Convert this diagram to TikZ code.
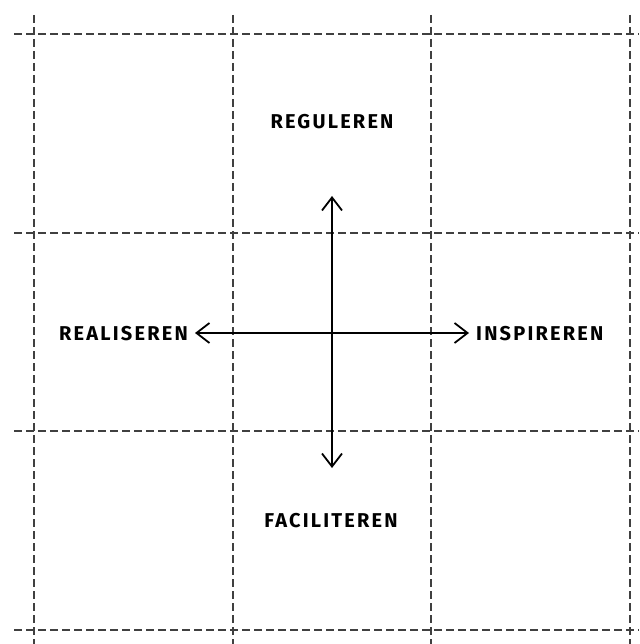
\documentclass[tikz,border=0pt]{standalone}
\usepackage{fontspec}
\setmainfont{Fira Sans}
\newfontfamily\lblfont[LetterSpace=11]{Fira Sans}
\usetikzlibrary{arrows.meta}
\begin{document}
\begin{tikzpicture}[x=1pt,y=-1pt,
  gridline/.style={draw=black!75,line width=1.2pt,dash pattern=on 8pt off 4pt},
  axis/.style={draw=black,line width=1.8pt,{Straight Barb[length=13pt,width=20pt,line width=1.8pt]}-{Straight Barb[length=13pt,width=20pt,line width=1.8pt]}},
  lbl/.style={inner sep=0pt,font=\lblfont\fontsize{20}{22}\selectfont\bfseries}]
\useasboundingbox (0,0) rectangle (639,644);
\fill[white] (0,0) rectangle (639,644);
% grid
\foreach \v in {34,233,431,630}{
  \draw[gridline] (\v,15) -- (\v,644);
  \draw[gridline] (14,\v) -- (639,\v);
}
% axes
\coordinate (top) at (332,196);
\coordinate (bot) at (332,468);
\coordinate (lft) at (195,333);
\coordinate (rgt) at (469,333);
\draw[axis] (top) -- (bot);
\draw[axis] (lft) -- (rgt);
% labels
\node[lbl] (reg) at (332,122) {REGULEREN};
\node[lbl] (fac) at (331,521) {FACILITEREN};
\node[lbl,anchor=east] (rea) at (188,334) {REALISEREN};
\node[lbl,anchor=west] (ins) at (476,334) {INSPIREREN};
\end{tikzpicture}
\end{document}
